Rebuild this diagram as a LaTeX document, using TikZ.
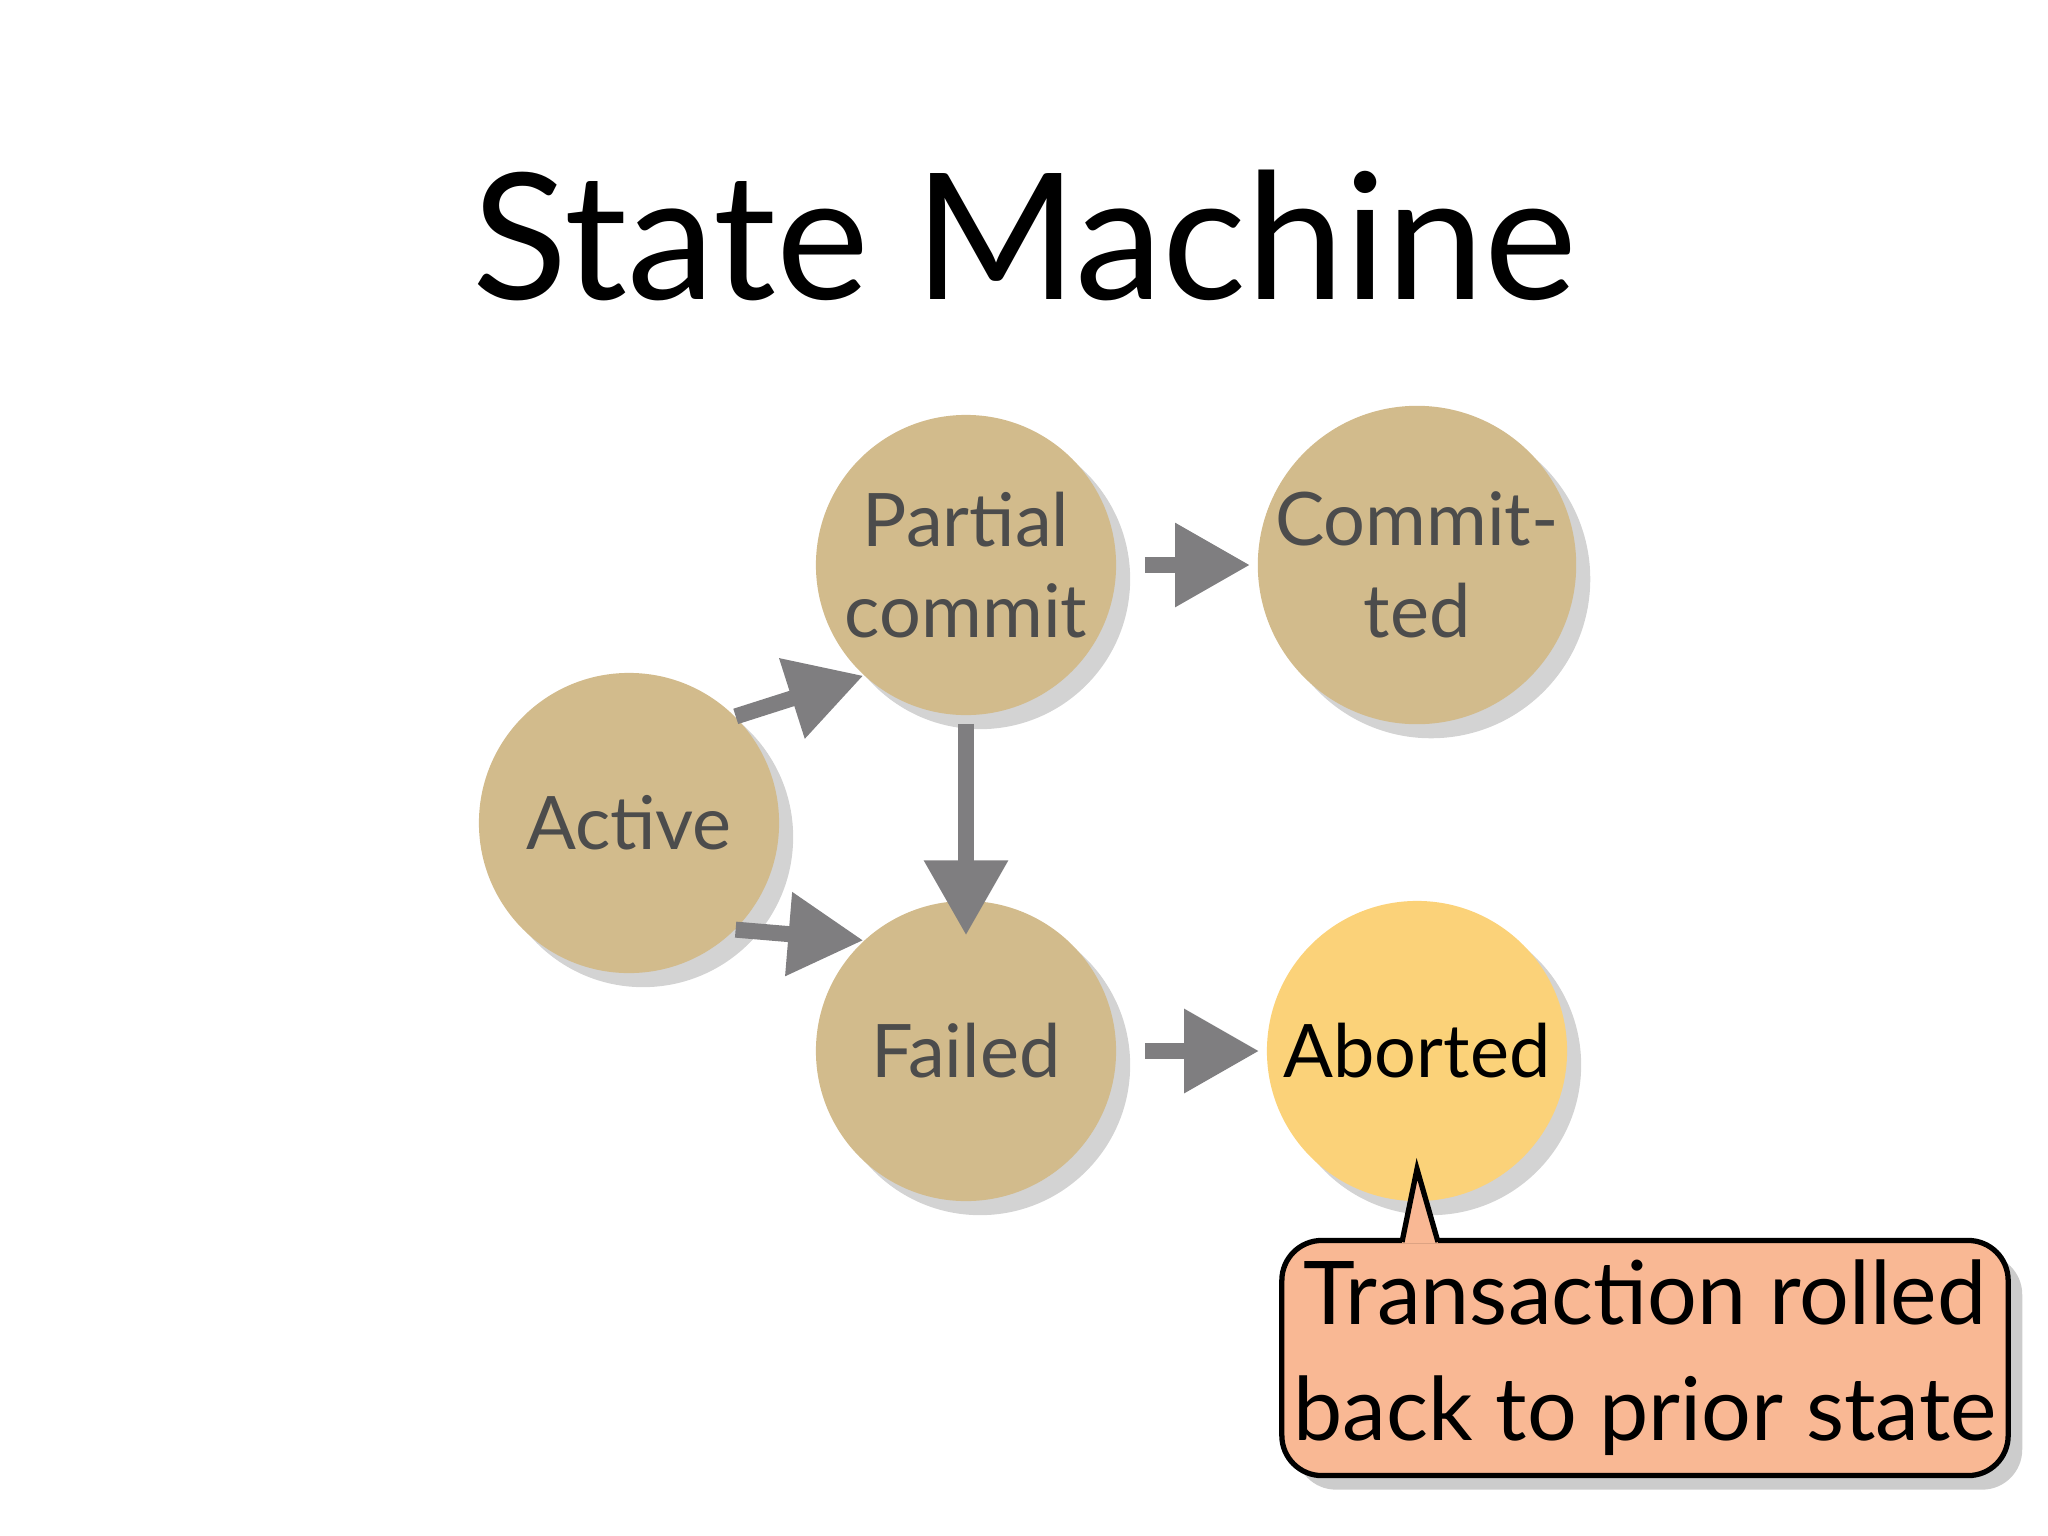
\documentclass[tikz,border=0pt]{standalone}
\usepackage{fontspec}
\setmainfont{Lato}
\usetikzlibrary{arrows.meta,shadows}
\definecolor{st}{HTML}{D2BB8C}
\definecolor{ab}{HTML}{FBD279}
\definecolor{co}{HTML}{F9B894}
\definecolor{ar}{HTML}{7F7E80}
\begin{document}
\begin{tikzpicture}[x=0.01cm,y=-0.01cm,
 state/.style={circle,fill=st,minimum size=300\pgflinewidth,minimum size=3cm,inner sep=0pt,align=center,font=\fontsize{21}{26}\selectfont,text=black!70,drop shadow={shadow xshift=4pt,shadow yshift=-4pt,opacity=0.35}},
 arr/.style={draw=ar,line width=0.16cm,-{Triangle[length=0.75cm,width=0.8cm]}}]
\useasboundingbox (0,0) rectangle (2048,1536);
\node[font=\fontsize{50}{60}\selectfont] (t) at (1025,235) {State Machine};
\node[state] (a) at (629,823) {Active};
\node[state] (p) at (966,565) {Partial\\commit};
\node[state] (c) at (1417,565) {Commit-\\ted};
\node[state] (f) at (966,1051) {Failed};
\node[state,fill=ab,text=black] (b) at (1417,1051) {Aborted};
\draw[arr] (a.45) ++(0.1,0) -- ([shift={(4,4)}]p.225);
\draw[arr] (a.-45) -- ([shift={(4,-4)}]f.135);
\draw[arr] (p.south) ++(0,8) -- ([yshift=-10]f.north);
\draw[arr] ([xshift=8]p.east) -- ([xshift=-2]c.west);
\draw[arr] ([xshift=8]f.east) -- ([xshift=-2]b.west);
\node[draw=black,line width=1.5pt,fill=co,rounded corners=0.4cm,minimum width=6.95cm,minimum height=2.35cm,align=center,font=\fontsize{25}{33}\selectfont,drop shadow={shadow xshift=4pt,shadow yshift=-4pt,opacity=0.4}] (k) at (1645,1358) {Transaction rolled\\back to prior state};
\coordinate (tip) at (1417,1169);
\fill[co] (1402,1243) -- (tip) -- (1438,1243) -- cycle;
\draw[line width=1.5pt] (1402,1242) -- (tip) -- (1438,1242);
\end{tikzpicture}
\end{document}
